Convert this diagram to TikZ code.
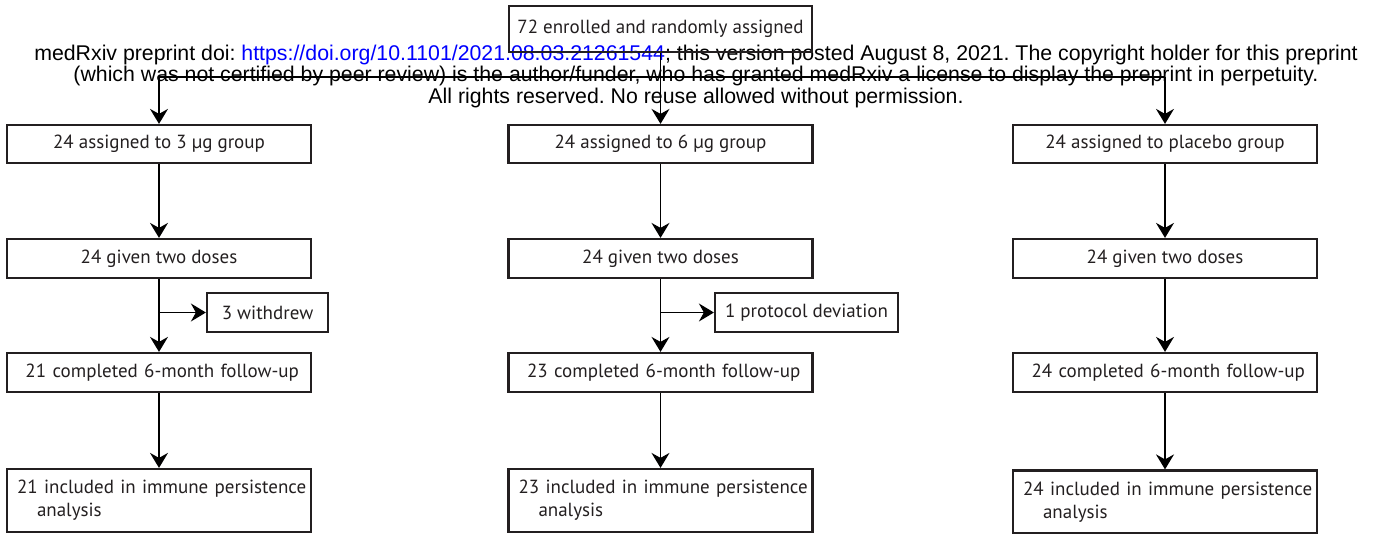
\documentclass[tikz,border=0pt]{standalone}
\usepackage{fontspec}
\setmainfont{PT Sans}
\newfontfamily\headfont{Liberation Sans}
\usetikzlibrary{arrows.meta}
\definecolor{boxline}{HTML}{231F20}
\definecolor{linkblue}{HTML}{0000FF}
\frenchspacing
\begin{document}
\begin{tikzpicture}[x=1pt,y=-1pt,
  box/.style={draw=boxline, line width=2.2pt, minimum width=304pt, minimum height=39pt,
    inner sep=0pt, text=boxline, font=\fontsize{19}{23}\selectfont},
  done/.style={box, text width=280pt, align=right},
  incl/.style={box, minimum height=63pt, text width=284pt, align=left},
  link/.style={line width=1.8pt},
  arr/.style={link, -{Stealth[length=15pt,width=18pt,inset=5pt]}}]
\useasboundingbox (0,0) rectangle (1378,533);
% watermark
\node[font=\headfont\fontsize{21.3}{21.5}\selectfont, align=center] (h) at (696,76)
  {medRxiv preprint doi: \textcolor{linkblue}{https://doi.org/10.1101/2021.08.03.21261544}; this version posted August 8, 2021. The copyright holder for this preprint\\
   (which was not certified by peer review) is the author/funder, who has granted medRxiv a license to display the preprint in perpetuity.\\
   All rights reserved. No reuse allowed without permission.};
% boxes
\node[box, minimum width=303pt, minimum height=46pt] (t) at (660.5,29) {72 enrolled and randomly assigned};
\coordinate (j) at (660.5,77);
\node[box, minimum height=38pt] (a1) at (159,144) {24 assigned to 3 µg group};
\node[box, minimum height=38pt] (a2) at (660.5,144) {24 assigned to 6 µg group};
\node[box, minimum height=38pt] (a3) at (1165,144) {24 assigned to placebo group};
\node[box] (g1) at (159,258.5) {24 given two doses};
\node[box] (g2) at (660.5,258.5) {24 given two doses};
\node[box] (g3) at (1165,258.5) {24 given two doses};
\node[box, minimum width=121pt] (w1) at (267.5,312.5) {3 withdrew};
\node[box, minimum width=183pt] (w2) at (806.5,312.5) {1 protocol deviation};
\node[done] (c1) at (159,372.5) {21 completed 6-month follow-up};
\node[done] (c2) at (660.5,372.5) {23 completed 6-month follow-up};
\node[done] (c3) at (1165,372.5) {24 completed 6-month follow-up};
\node[incl] (i1) at (159,500.5) {\mbox{21 included in immune persistence}\\\hspace*{20pt}analysis};
\node[incl] (i2) at (660.5,500.5) {\mbox{23 included in immune persistence}\\\hspace*{20pt}analysis};
\node[incl] (i3) at (1165,502) {\mbox{24 included in immune persistence}\\\hspace*{20pt}analysis};
% connectors
\draw[arr] (t.south) -- (a2.north);
\draw[link] (a1.north |- j) -- (a3.north |- j);
\draw[arr] (a1.north |- j) -- (a1.north);
\draw[arr] (a3.north |- j) -- (a3.north);
\draw[arr] (a1.south) -- (g1.north);
\draw[arr] (a2.south) -- (g2.north);
\draw[arr] (a3.south) -- (g3.north);
\draw[arr] (g1.south) -- (c1.north);
\draw[arr] (g2.south) -- (c2.north);
\draw[arr] (g3.south) -- (c3.north);
\draw[arr] (w1.west -| g1.south) -- (w1.west);
\draw[arr] (w2.west -| g2.south) -- (w2.west);
\draw[arr] (c1.south) -- (i1.north);
\draw[arr] (c2.south) -- (i2.north);
\draw[arr] (c3.south) -- (i3.north);
\end{tikzpicture}
\end{document}
